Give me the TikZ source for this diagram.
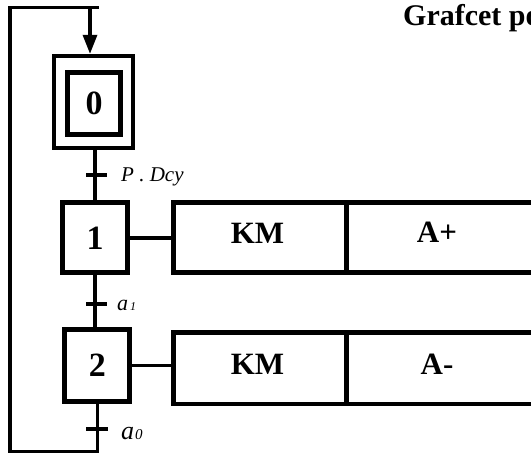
\documentclass[tikz,border=0pt]{standalone}
\usepackage{fontspec}
\setmainfont{Liberation Serif}
\usetikzlibrary{arrows.meta}
\begin{document}
\begin{tikzpicture}[x=1pt,y=-1pt,
  link/.style={line width=3.3pt},
  tick/.style={line width=4pt},
  stepbox/.style={draw, line width=5pt, inner sep=0pt,
    font=\fontsize{34}{34}\selectfont\bfseries},
  actbox/.style={draw, line width=4.5pt, inner sep=0pt, outer sep=0pt},
  acttext/.style={inner sep=0pt, font=\fontsize{31}{31}\selectfont\bfseries},
  cond/.style={inner sep=0pt, anchor=base west},
]
\useasboundingbox (0,0) rectangle (531,454);
\clip (0,0) rectangle (531,454);

% title
\node[anchor=base west, inner sep=0pt, font=\bfseries\fontsize{30}{30}\selectfont]
  (title) at (403,26) {Grafcet po};

% initial step (double frame)
\node[draw, line width=4.3pt, inner sep=0pt, minimum width=79pt, minimum height=92pt]
  (s0) at (93.5,102) {};
\node[stepbox, minimum width=53pt, minimum height=62pt] (s0in) at (94,103.5) {0};

% steps 1 and 2
\node[stepbox, minimum width=65pt, minimum height=70pt] (s1) at (95,238) {1};
\node[stepbox, minimum width=65pt, minimum height=71.5pt] (s2) at (97.3,365.7) {2};

% action boxes
\node[actbox, minimum width=400pt, minimum height=70pt, anchor=west] (act1) at (173.5,237.5) {};
\node[actbox, minimum width=400pt, minimum height=71.7pt, anchor=west] (act2) at (173.5,368.2) {};
\draw[line width=4.5pt] ([xshift=173pt]act1.north west) -- ([xshift=173pt]act1.south west);
\draw[line width=4.5pt] ([xshift=173pt]act2.north west) -- ([xshift=173pt]act2.south west);
\node[acttext] (km1) at (257.5,233) {KM};
\node[acttext] (ap1) at (437,232.5) {A+};
\node[acttext] (km2) at (257.5,364) {KM};
\node[acttext] (am2) at (437,364) {A-};

% step to action links
\draw[link] (s1.east) -- (s1.east -| act1.west);
\draw[link] (s2.east) -- (s2.east -| act2.west);

% vertical links between steps
\draw[link] (s0.south -| s1.north) -- (s1.north);
\draw[link] (s1.south) -- (s1.south |- s2.north);

% return loop
\coordinate (bl) at (10,451.7);
\coordinate (tl) at (10,7.7);
\coordinate (tr) at (99,7.7);
\coordinate (ar) at (90,7.7);
\draw[link] (s2.south) -- (s2.south |- bl) -- (bl) -- (tl) -- (tr);
\draw[link, -{Triangle[width=14pt,length=19pt]}] (ar) -- (ar |- s0.north);

% transitions
\coordinate (t1) at (95.3,174.7);
\coordinate (t2) at (95.3,303.7);
\coordinate (t3) at (97.3,428.7);
\draw[tick] ([xshift=-9.3pt]t1) -- ([xshift=11.7pt]t1);
\draw[tick] ([xshift=-9.3pt]t2) -- ([xshift=11.7pt]t2);
\draw[tick] ([xshift=-11.3pt]t3) -- ([xshift=10.7pt]t3);

% receptivities
\node[cond, font=\itshape\fontsize{21}{21}\selectfont] (c1) at (121,182) {P . Dcy};
\node[cond, font=\itshape] (c2) at (117,311)
  {\fontsize{22}{22}\selectfont a\kern2pt\fontsize{12}{12}\selectfont 1};
\node[cond, font=\itshape] (c3) at (121,440)
  {\fontsize{26}{26}\selectfont a\kern1pt\fontsize{15}{15}\selectfont 0};
\end{tikzpicture}
\end{document}
